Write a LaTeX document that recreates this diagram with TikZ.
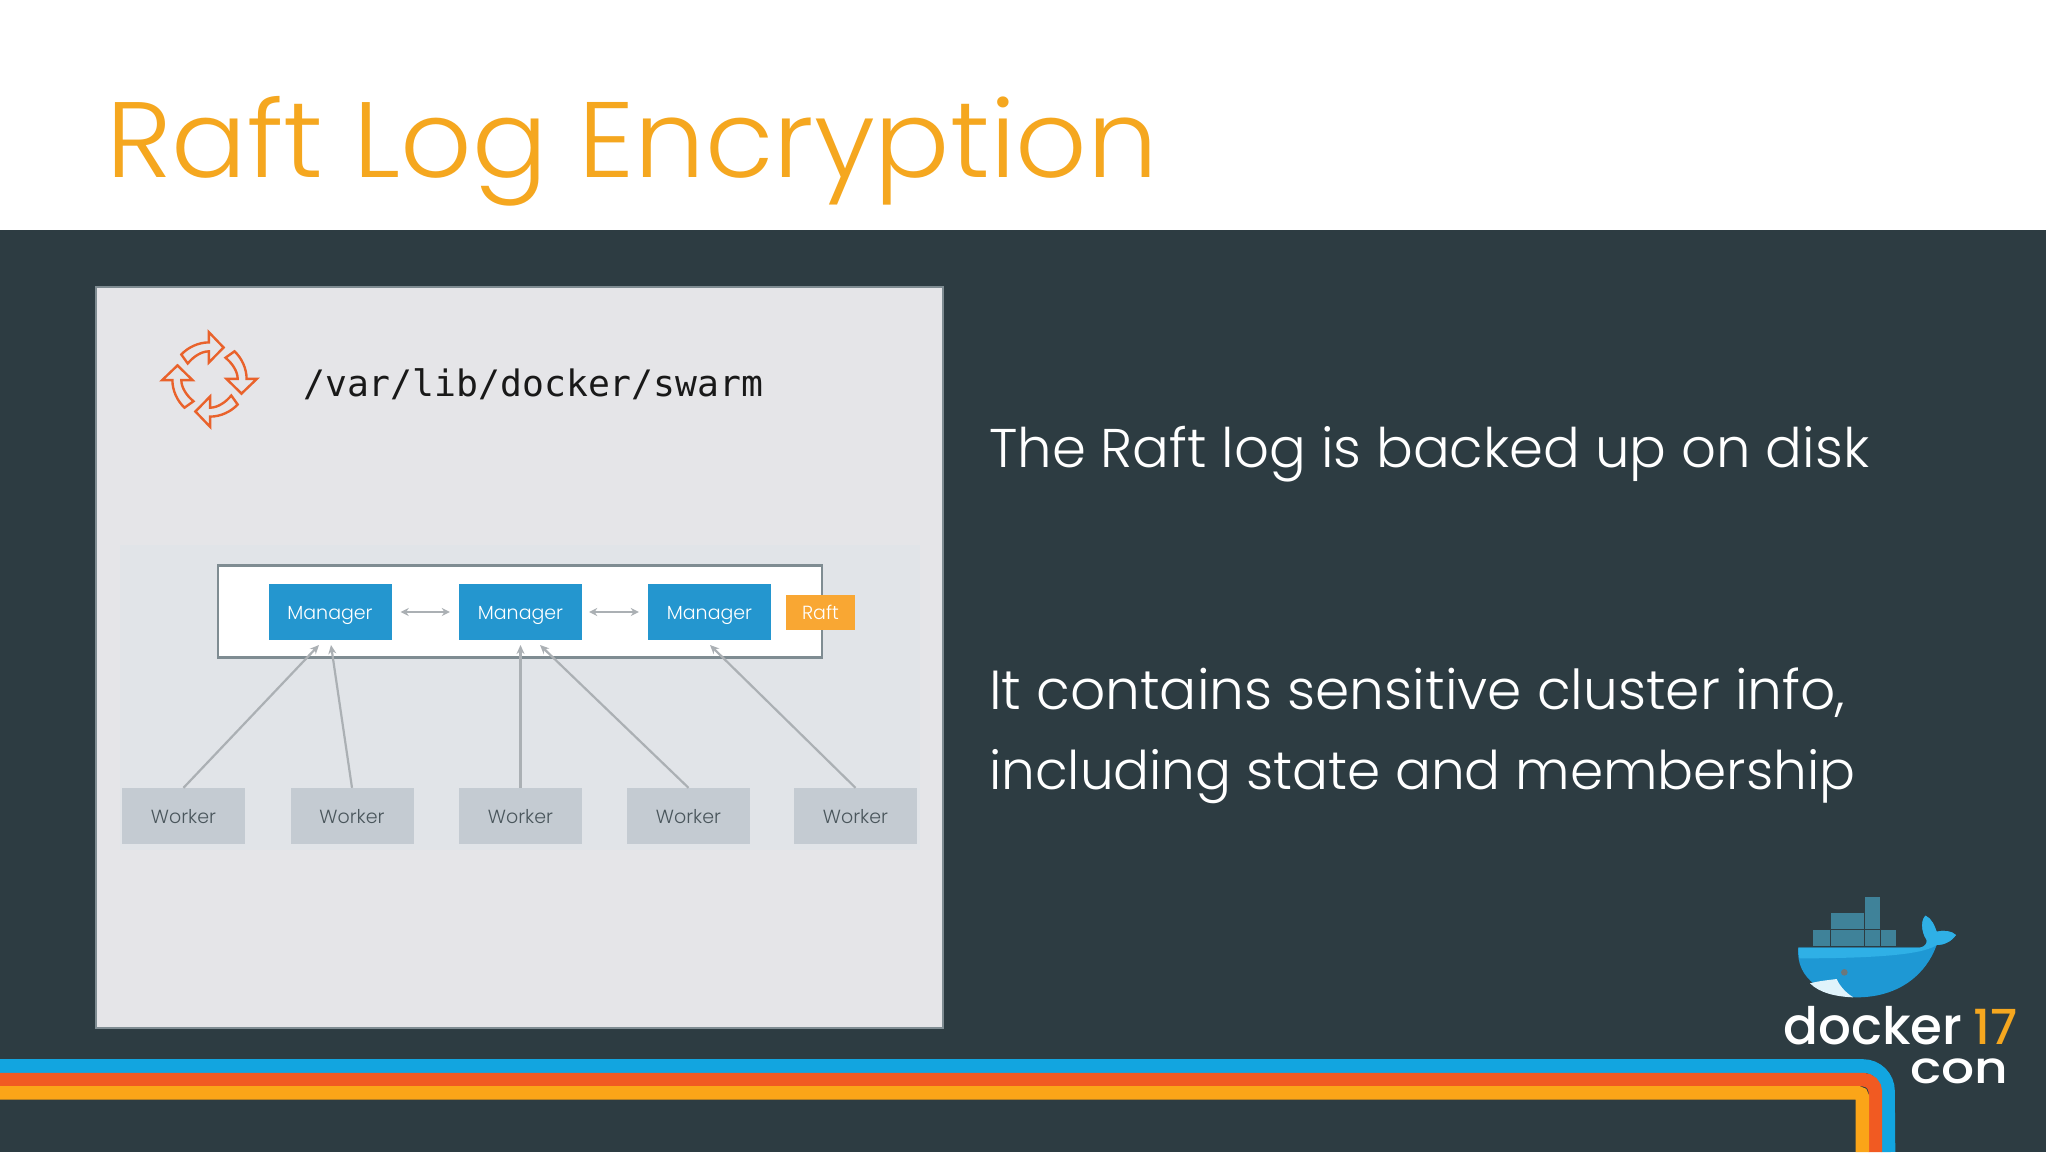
\documentclass[tikz,border=0pt]{standalone}
\usepackage{fontspec}
\setmainfont{Poppins}
\newfontfamily\codefont{DejaVu Sans Mono}
\newfontfamily\lightf{Poppins Light}
\newfontfamily\medf{Poppins Medium}
\definecolor{slate}{HTML}{2D3C42}
\definecolor{titlecol}{HTML}{F5A71F}
\definecolor{stripeblue}{HTML}{12A5E0}
\definecolor{stripeorange}{HTML}{F15A22}
\definecolor{stripeyellow}{HTML}{FBA518}
\definecolor{cardbg}{HTML}{E5E5E8}
\definecolor{diagbg}{HTML}{E1E4E8}
\definecolor{mgr}{HTML}{2496CF}
\definecolor{raftc}{HTML}{F9A733}
\definecolor{wrk}{HTML}{C4CBD2}
\definecolor{wrktext}{HTML}{4A565C}
\definecolor{frameline}{HTML}{7F8C92}
\definecolor{arrowgrey}{HTML}{ABB0B4}
\definecolor{iconorange}{HTML}{E9622B}
\definecolor{boxteal}{HTML}{3F8299}
\definecolor{whaletop}{HTML}{2FB0E6}
\definecolor{whalelow}{HTML}{1E98D4}
\usetikzlibrary{arrows.meta}
\newcommand{\fitw}[2]{\resizebox{#1pt}{!}{#2}}
\tikzset{
  manager/.style={fill=mgr,text=white,minimum width=123pt,minimum height=56pt,inner sep=0pt,text height=14pt,text depth=0pt,font=\lightf\fontsize{19}{23}\selectfont},
  worker/.style={fill=wrk,text=wrktext,minimum width=123pt,minimum height=56pt,inner sep=0pt,text height=14pt,text depth=0pt,font=\lightf\fontsize{19}{23}\selectfont},
  raftbox/.style={fill=raftc,text=white,minimum width=69pt,minimum height=35pt,inner sep=0pt,text height=14pt,text depth=0pt,font=\lightf\fontsize{19}{23}\selectfont},
  link/.style={draw=arrowgrey,line width=2.2pt,-{Stealth[length=9pt,width=8pt]}},
  dlink/.style={draw=arrowgrey,line width=2.2pt,{Stealth[length=8pt,width=8pt]}-{Stealth[length=8pt,width=8pt]}},
  bodytext/.style={anchor=base west,inner sep=0pt,text=white},
  stripe/.style={line width=13.6pt},
  crate/.style={fill=boxteal}
}
\begin{document}
\begin{tikzpicture}[x=1pt,y=-1pt]
\useasboundingbox (0,0) rectangle (2048,1152);
\fill[white] (0,0) rectangle (2048,1152);
\fill[slate] (0,230) rectangle (2046,1152);
\node[anchor=base west,inner sep=0pt,text=titlecol] (title) at (106,177) {\fitw{1051}{\scalebox{1}[0.96]{\lightf Raft Log Encryption}}};
% card
\draw[fill=cardbg,draw=frameline,line width=2.5pt] (96,287) rectangle (943,1028);
\fill[diagbg] (120,545) rectangle (920,850);
% icon
\foreach \a in {0,90,180,270}{
  \begin{scope}[shift={(209.5,379.5)},rotate=\a,scale=0.32]
    \draw[iconorange,line width=2.4pt,line join=miter] (44,-100) -- (-2,-148) -- (-2,-116)
      .. controls (-35,-116) and (-68,-100) .. (-88,-78)
      -- (-68,-50) .. controls (-50,-72) and (-25,-88) .. (-2,-88)
      -- (-2,-53) -- cycle;
  \end{scope}
}
\node[anchor=base west,inner sep=0pt,text=black!90] (path) at (303,396) {\codefont\fontsize{36.4}{40}\selectfont /var/lib/docker/swarm};
% cluster
\node[draw=frameline,fill=white,line width=2.4pt,minimum width=604pt,minimum height=92pt,inner sep=0pt] (cluster) at (520,611.5) {};
\node[manager] (m1) at (330,612) {Manager};
\node[manager] (m2) at (520.5,612) {Manager};
\node[manager] (m3) at (709.5,612) {Manager};
\node[raftbox] (raft) at (820.5,612.5) {Raft};
\node[worker] (w1) at (183.5,816) {Worker};
\node[worker] (w2) at (352,816) {Worker};
\node[worker] (w3) at (520.5,816) {Worker};
\node[worker] (w4) at (688.5,816) {Worker};
\node[worker] (w5) at (855.5,816) {Worker};
\coordinate (t1) at (319,645);
\coordinate (t2) at (331,645);
\coordinate (t3) at (520.5,645);
\coordinate (t4) at (540,645);
\coordinate (t5) at (710,645);
\draw[link] (w1.north) -- (t1);
\draw[link] (w2.north) -- (t2);
\draw[link] (w3.north) -- (t3);
\draw[link] (w4.north) -- (t4);
\draw[link] (w5.north) -- (t5);
\draw[dlink] ([xshift=9pt]m1.east) -- ([xshift=-9pt]m2.west);
\draw[dlink] ([xshift=7pt]m2.east) -- ([xshift=-9pt]m3.west);
% body
\node[bodytext] (l1) at (989,467.5) {\fitw{880}{\lightf The Raft log is backed up on disk}};
\node[bodytext] (l2) at (989,709.5) {\fitw{856}{\lightf It contains sensitive cluster info,}};
\node[bodytext] (l3) at (989,789.5) {\fitw{866}{\lightf including state and membership}};
% stripes
\draw[stripe,stripeblue] (0,1066) -- (1863,1066) arc[start angle=-90,end angle=0,radius=25] -- (1888.5,1152);
\draw[stripe,stripeorange] (0,1079.6) -- (1863,1079.6) arc[start angle=-90,end angle=0,radius=12.4] -- (1875.4,1152);
\draw[stripe,stripeyellow] (0,1092.8) -- (1858,1092.8) arc[start angle=-90,end angle=0,radius=4.4] -- (1862.4,1152);
% logo
\begin{scope}[shift={(1740,880)},scale=0.3333]
  \fill[crate] (218,150) rectangle (270,199);
  \fill[crate] (274,150) rectangle (320,199);
  \fill[crate] (322,150) rectangle (371,199);
  \fill[crate] (374,150) rectangle (421,199);
  \fill[crate] (424,150) rectangle (468,199);
  \fill[crate] (272,100) rectangle (320,148);
  \fill[crate] (322,100) rectangle (371,148);
  \fill[crate] (374,100) rectangle (421,148);
  \fill[crate] (374,50) rectangle (421,98);
  \fill[whalelow] (175,203) -- (540,203) .. controls (555,200) and (562,190) .. (560,180)
    .. controls (540,150) and (545,115) .. (557,107)
    .. controls (575,115) and (585,140) .. (590,155)
    .. controls (610,150) and (635,152) .. (648,165)
    .. controls (630,190) and (605,195) .. (590,195)
    .. controls (560,280) and (480,352) .. (350,352)
    .. controls (260,352) and (165,300) .. (175,203) -- cycle;
  \fill[whaletop] (175,203) -- (540,203) .. controls (555,200) and (562,190) .. (560,180)
    .. controls (540,150) and (545,115) .. (557,107)
    .. controls (575,115) and (585,140) .. (590,155)
    .. controls (610,150) and (635,152) .. (648,165)
    .. controls (630,190) and (605,195) .. (590,195)
    .. controls (560,215) and (480,235) .. (178,235) -- cycle;
  \fill[white!85!whaletop] (210,310) .. controls (240,302) and (270,300) .. (290,297)
    .. controls (300,320) and (320,340) .. (340,352) .. controls (290,350) and (240,340) .. (210,310) -- cycle;
  \fill[slate!70!white] (313,277) circle (10);
\end{scope}
\node[anchor=base west,inner sep=0pt,text=white] (dk) at (1783,1044) {\fitw{179}{\medf docker}};
\node[anchor=base west,inner sep=0pt,text=titlecol] (yr) at (1973,1044) {\fitw{44}{\medf 17}};
\node[anchor=base west,inner sep=0pt,text=white] (cn) at (1910,1083) {\fitw{98}{\scalebox{1}[0.85]{\medf con}}};
\end{tikzpicture}
\end{document}
